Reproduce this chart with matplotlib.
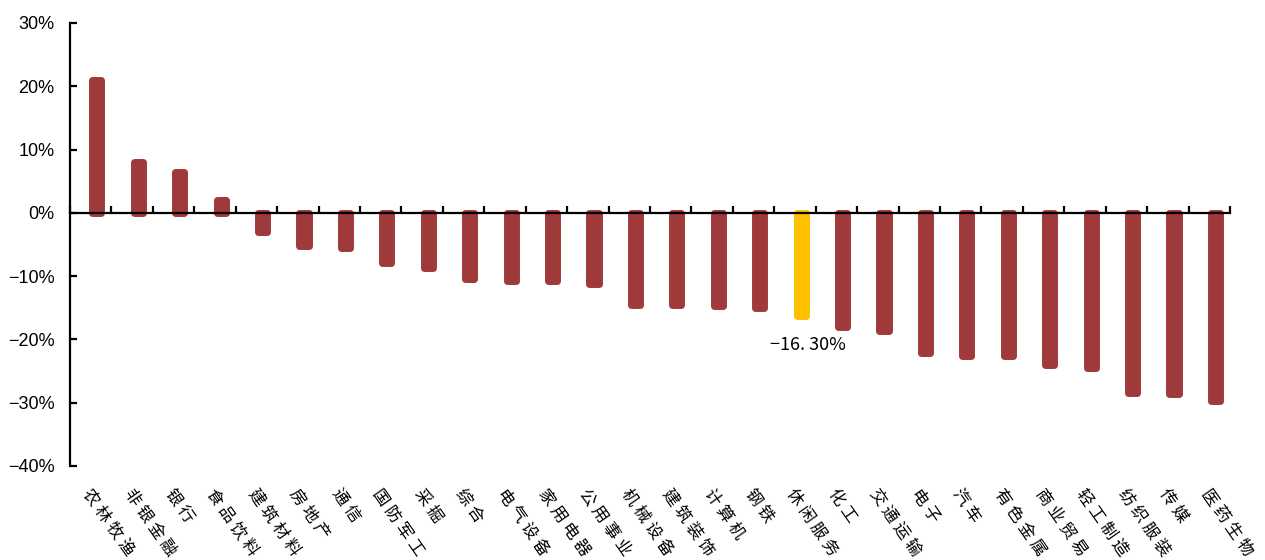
import numpy as np
import matplotlib
matplotlib.use("Agg")
import matplotlib.pyplot as plt
import matplotlib.transforms as mtransforms

plt.rcParams['font.family'] = ['Liberation Sans', 'Noto Sans CJK SC', 'DejaVu Sans']

industries = ['农林牧渔', '非银金融', '银行', '食品饮料', '建筑材料', '房地产', '通信',
              '国防军工', '采掘', '综合', '电气设备', '家用电器', '公用事业', '机械设备',
              '建筑装饰', '计算机', '钢铁', '休闲服务', '化工', '交通运输', '电子', '汽车',
              '有色金属', '商业贸易', '轻工制造', '纺织服装', '传媒', '医药生物']
returns = [21.0, 8.1, 6.5, 2.1, -3.0, -5.3, -5.6, -7.9, -8.8, -10.4, -10.7, -10.7,
           -11.3, -14.5, -14.5, -14.8, -15.1, -16.3, -18.0, -18.6, -22.1, -22.7,
           -22.7, -24.0, -24.6, -28.4, -28.7, -29.7]
highlight = '休闲服务'
yticks = [-40, -30, -20, -10, 0, 10, 20, 30]

red = '#A03A3A'
gold = '#FFC000'

fig = plt.figure(figsize=(12.65, 5.6), dpi=100)
ax = fig.add_axes([0.0553, 0.168, 0.917, 0.791])

n = len(industries)
x = np.arange(n)
colors = [gold if c == highlight else red for c in industries]
ax.bar(x + 0.15, returns, width=0.22, color=colors, edgecolor=colors,
       linewidth=5, joinstyle='round', zorder=2)

ax.set_xlim(-0.5, n - 0.5)
ax.set_ylim(-40, 30)
ax.set_yticks(yticks)
ax.set_yticklabels([f'{v}%'.replace('-', '\u2212') for v in yticks], fontsize=13)

ax.spines['top'].set_visible(False)
ax.spines['right'].set_visible(False)
ax.spines['left'].set_linewidth(1.6)
ax.spines['bottom'].set_linewidth(1.6)
ax.spines['bottom'].set_position(('data', 0))
ax.spines['bottom'].set_zorder(3)

ax.set_xticks(np.arange(n + 1) - 0.5)
ax.set_xticklabels([])
ax.tick_params(axis='x', direction='in', length=5, width=1.6)
ax.tick_params(axis='y', direction='in', length=5, width=1.6, pad=11)

cjk = ['Noto Sans CJK SC', 'DejaVu Sans']
trans = mtransforms.blended_transform_factory(ax.transData, ax.transAxes)
for i, name in enumerate(industries):
    ax.text(i + 0.05, -0.045, ' '.join(name), transform=trans, rotation=-55,
            rotation_mode='anchor', ha='left', va='top', fontsize=12, family=cjk)

idx = industries.index(highlight)
label = f'{returns[idx]:.2f}%'.replace('.', '. ').replace('-', '\u2212')
ax.annotate(label, xy=(idx + 0.15, returns[idx]),
            xytext=(5, -21), textcoords='offset points', ha='center', va='center',
            fontsize=13, family=cjk)

fig.savefig('out.png', dpi=100)
